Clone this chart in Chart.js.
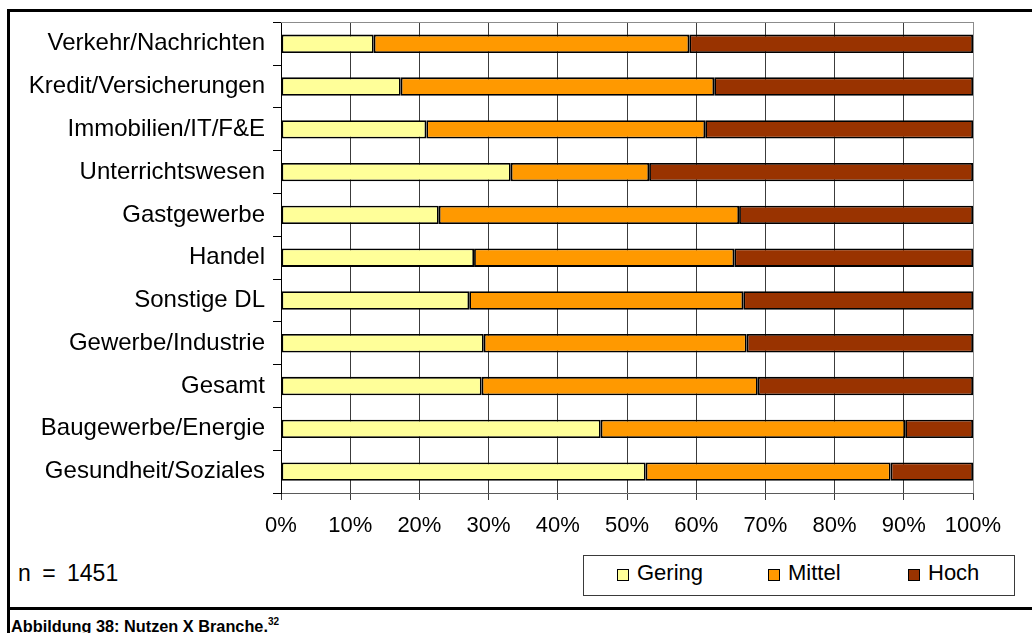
<!DOCTYPE html>
<html lang="de">
<head>
<meta charset="utf-8">
<title>Nutzen X Branche</title>
<script src="https://cdn.jsdelivr.net/npm/chart.js@4/dist/chart.umd.min.js"></script>
<style>
  html, body { margin: 0; padding: 0; background: #fff; }
  body { width: 1032px; height: 633px; position: relative; overflow: hidden;
         font-family: "Liberation Sans", Arial, sans-serif; color: #000; }
  #chartBox { position: absolute; left: 0; top: 0; width: 1032px; height: 540px; }
  .rule { position: absolute; background: #000; }
  #sample { position: absolute; left: 18px; top: 560px; font-size: 23px; line-height: 26px; word-spacing: 5px; white-space: nowrap; }
  #legend { position: absolute; left: 583px; top: 555px; width: 430px; height: 39px; border: 1px solid #3a3a3a; }
  #legend .sw { position: absolute; top: 13px; width: 10px; height: 10px; border: 1px solid #000; }
  #legend .lbl { position: absolute; top: 4px; font-size: 22px; line-height: 26px; white-space: nowrap; }
  #caption { position: absolute; left: 11px; top: 616px; font-size: 16.3px; line-height: 20px; font-weight: bold; white-space: nowrap; }
  #caption sup { font-size: 10px; vertical-align: 0; position: relative; top: -7px; }
</style>
</head>
<body>
<div class="rule" style="left:7px; top:9px; width:1025px; height:3px;"></div>
<div class="rule" style="left:7px; top:9px; width:3px; height:624px;"></div>
<div class="rule" style="left:7px; top:607px; width:1025px; height:3px;"></div>

<div id="chartBox"><canvas id="chart"></canvas></div>
<div id="sample">n = 1451</div>
<div id="legend"></div>
<div id="caption">Abbildung 38: Nutzen X Branche.<sup>32</sup></div>

<script>
// Branchen, von oben nach unten
const categories = [
  'Verkehr/Nachrichten',
  'Kredit/Versicherungen',
  'Immobilien/IT/F&E',
  'Unterrichtswesen',
  'Gastgewerbe',
  'Handel',
  'Sonstige DL',
  'Gewerbe/Industrie',
  'Gesamt',
  'Baugewerbe/Energie',
  'Gesundheit/Soziales'
];

// Anteile in Prozent je Nutzenstufe
const gering = [13.4, 17.3, 21.0, 33.2, 22.8, 27.9, 27.2, 29.3, 29.0, 46.2, 52.7];
const mittel = [45.6, 45.3, 40.3, 20.0, 43.4, 37.6, 39.6, 38.0, 39.9, 44.0, 35.4];
const hoch   = [41.0, 37.4, 38.7, 46.8, 33.8, 34.5, 33.2, 32.7, 31.1,  9.8, 11.9];

const seriesNames = ['Gering', 'Mittel', 'Hoch'];
const axisMax = 100;
const axisStep = 10;

const FONT = '"Liberation Sans", Arial, sans-serif';
const fills = ['#FFFF99', '#FF9900', '#993300'];

// Grauer Rahmen oben um die Zeichenfläche
const plotFrame = {
  id: 'plotFrame',
  beforeDatasetsDraw(chart) {
    const { ctx, chartArea: a } = chart;
    ctx.save();
    ctx.strokeStyle = '#8c8c8c';
    ctx.lineWidth = 1;
    ctx.beginPath();
    ctx.moveTo(a.left, Math.round(a.top) + 0.5);
    ctx.lineTo(a.right + 0.5, Math.round(a.top) + 0.5);
    ctx.lineTo(Math.round(a.right) + 0.5, a.bottom);
    ctx.stroke();
    ctx.restore();
  }
};

const datasets = [gering, mittel, hoch].map((values, i) => ({
  label: seriesNames[i],
  data: values,
  backgroundColor: fills[i],
  borderColor: '#000',
  borderWidth: 1.8,
  borderSkipped: false,
  barPercentage: 0.43,
  categoryPercentage: 1.0
}));

const chart = new Chart(document.getElementById('chart'), {
  type: 'bar',
  data: { labels: categories, datasets },
  plugins: [plotFrame],
  options: {
    indexAxis: 'y',
    responsive: true,
    maintainAspectRatio: false,
    animation: false,
    layout: { padding: { top: 22, right: 59, left: 0, bottom: 0 } },
    plugins: {
      legend: { display: false },
      tooltip: { enabled: false }
    },
    scales: {
      x: {
        stacked: true,
        min: 0,
        max: axisMax,
        ticks: {
          stepSize: axisStep,
          color: '#000',
          padding: 13,
          maxRotation: 0,
          font: { family: FONT, size: 22 },
          callback: v => v + '%'
        },
        grid: { color: '#3c3c3c', lineWidth: 1, tickLength: 7, drawTicks: true },
        border: { color: '#5a5a5a', width: 1 },
        afterFit(scale) { scale.height = 47; }
      },
      y: {
        stacked: true,
        ticks: {
          color: '#000',
          padding: 8,
          autoSkip: false,
          font: { family: FONT, size: 24 }
        },
        grid: { drawOnChartArea: false, drawTicks: true, tickLength: 8, color: '#000', offset: true },
        border: { color: '#000', width: 1 },
        afterFit(scale) { scale.width = 281; }
      }
    }
  }
});

// Legende aus den Datenreihen
const legendX = [33, 184, 324];
const legendEl = document.getElementById('legend');
chart.data.datasets.forEach((ds, i) => {
  const sw = document.createElement('span');
  sw.className = 'sw';
  sw.style.left = legendX[i] + 'px';
  sw.style.background = ds.backgroundColor;
  legendEl.appendChild(sw);
  const lbl = document.createElement('span');
  lbl.className = 'lbl';
  lbl.style.left = (legendX[i] + 20) + 'px';
  lbl.textContent = ds.label;
  legendEl.appendChild(lbl);
});
</script>
</body>
</html>
